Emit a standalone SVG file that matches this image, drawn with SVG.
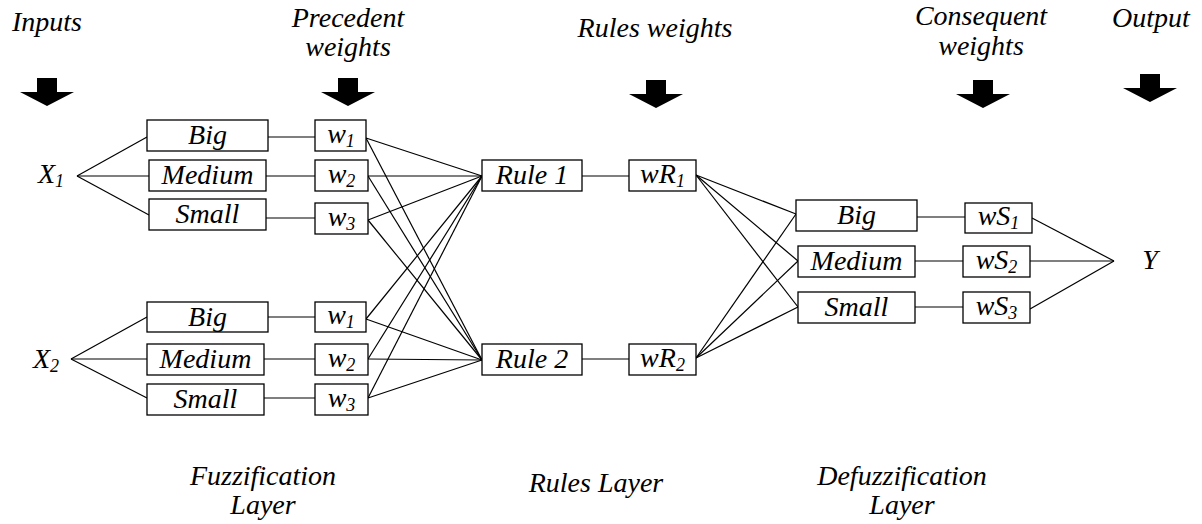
<svg xmlns="http://www.w3.org/2000/svg" width="1202" height="524" viewBox="0 0 1202 524">
<defs>
<path id="arrow" d="M-10,0 H10 V14 H27 L0,28 L-27,14 H-10 Z" fill="#000"/>
</defs>
<rect x="0" y="0" width="1202" height="524" fill="#fff"/>

<g id="labels" font-family="Liberation Serif" font-style="italic" font-size="28" text-anchor="middle" fill="#000">
<text x="47" y="31">Inputs</text>
<text x="348" y="27">Precedent</text>
<text x="348" y="56">weights</text>
<text x="655" y="37">Rules weights</text>
<text x="981" y="25">Consequent</text>
<text x="981" y="55">weights</text>
<text x="1151" y="27">Output</text>
<text x="263" y="485">Fuzzification</text>
<text x="263" y="514">Layer</text>
<text x="596" y="492">Rules Layer</text>
<text x="902" y="485">Defuzzification</text>
<text x="902" y="514">Layer</text>
</g>

<g id="arrows">
<use href="#arrow" x="47" y="78"/>
<use href="#arrow" x="348" y="78"/>
<use href="#arrow" x="656" y="80"/>
<use href="#arrow" x="983" y="80"/>
<use href="#arrow" x="1150" y="74"/>
</g>

<g id="connectors" stroke="#000" stroke-width="1.2" fill="none">
<line x1="77" y1="176" x2="147" y2="137"/>
<line x1="77" y1="176" x2="149" y2="176"/>
<line x1="77" y1="176" x2="149" y2="215"/>
<line x1="268" y1="137" x2="315" y2="137"/>
<line x1="266" y1="176" x2="315" y2="176"/>
<line x1="266" y1="218" x2="315" y2="218"/>
<line x1="71" y1="359" x2="147" y2="317"/>
<line x1="71" y1="359" x2="147" y2="359"/>
<line x1="71" y1="359" x2="147" y2="398"/>
<line x1="268" y1="317" x2="315" y2="317"/>
<line x1="264" y1="359" x2="315" y2="359"/>
<line x1="264" y1="398" x2="315" y2="398"/>
<line x1="366" y1="138" x2="482" y2="176"/>
<line x1="366" y1="138" x2="482" y2="360"/>
<line x1="368" y1="176" x2="482" y2="176"/>
<line x1="368" y1="176" x2="482" y2="360"/>
<line x1="368" y1="220" x2="482" y2="176"/>
<line x1="368" y1="220" x2="482" y2="360"/>
<line x1="366" y1="319" x2="482" y2="176"/>
<line x1="366" y1="319" x2="482" y2="360"/>
<line x1="368" y1="359" x2="482" y2="176"/>
<line x1="368" y1="359" x2="482" y2="360"/>
<line x1="368" y1="398" x2="482" y2="176"/>
<line x1="368" y1="398" x2="482" y2="360"/>
<line x1="582" y1="176" x2="629" y2="176"/>
<line x1="582" y1="359" x2="629" y2="359"/>
<line x1="696" y1="175" x2="796" y2="214"/>
<line x1="696" y1="175" x2="798" y2="261"/>
<line x1="696" y1="175" x2="798" y2="307"/>
<line x1="696" y1="358" x2="796" y2="214"/>
<line x1="696" y1="358" x2="798" y2="261"/>
<line x1="696" y1="358" x2="798" y2="307"/>
<line x1="917" y1="217" x2="965" y2="217"/>
<line x1="915" y1="261" x2="963" y2="261"/>
<line x1="915" y1="307" x2="963" y2="307"/>
<line x1="1032" y1="218" x2="1114" y2="261"/>
<line x1="1030" y1="261" x2="1114" y2="261"/>
<line x1="1030" y1="309" x2="1114" y2="261"/>
</g>

<g id="nodes" font-family="Liberation Serif" font-style="italic" font-size="28" text-anchor="middle">
<g id="x1"><text x="51" y="183" fill="#000">X<tspan font-size="18" dy="4">1</tspan></text></g>
<g id="x2"><text x="46" y="368" fill="#000">X<tspan font-size="18" dy="4">2</tspan></text></g>
<g id="y"><text x="1150" y="269" fill="#000">Y</text></g>

<g id="big1"><rect x="147" y="120" width="121" height="31" fill="#fff" stroke="#000" stroke-width="1.3"/><text x="207.5" y="144" fill="#000">Big</text></g>
<g id="medium1"><rect x="149" y="160" width="117" height="31" fill="#fff" stroke="#000" stroke-width="1.3"/><text x="207.5" y="184" fill="#000">Medium</text></g>
<g id="small1"><rect x="149" y="199" width="117" height="31" fill="#fff" stroke="#000" stroke-width="1.3"/><text x="207.5" y="223" fill="#000">Small</text></g>
<g id="w1a"><rect x="315" y="120" width="51" height="31" fill="#fff" stroke="#000" stroke-width="1.3"/><text x="341" y="143" fill="#000">w<tspan font-size="18" dy="4">1</tspan></text></g>
<g id="w2a"><rect x="315" y="160" width="53" height="31" fill="#fff" stroke="#000" stroke-width="1.3"/><text x="341.5" y="183" fill="#000">w<tspan font-size="18" dy="4">2</tspan></text></g>
<g id="w3a"><rect x="315" y="203" width="53" height="31" fill="#fff" stroke="#000" stroke-width="1.3"/><text x="341.5" y="226" fill="#000">w<tspan font-size="18" dy="4">3</tspan></text></g>

<g id="big2"><rect x="147" y="302" width="121" height="30" fill="#fff" stroke="#000" stroke-width="1.3"/><text x="207.5" y="326" fill="#000">Big</text></g>
<g id="medium2"><rect x="147" y="344" width="117" height="31" fill="#fff" stroke="#000" stroke-width="1.3"/><text x="205.5" y="368" fill="#000">Medium</text></g>
<g id="small2"><rect x="147" y="384" width="117" height="31" fill="#fff" stroke="#000" stroke-width="1.3"/><text x="205.5" y="408" fill="#000">Small</text></g>
<g id="w1b"><rect x="315" y="302" width="51" height="30" fill="#fff" stroke="#000" stroke-width="1.3"/><text x="341" y="324" fill="#000">w<tspan font-size="18" dy="4">1</tspan></text></g>
<g id="w2b"><rect x="315" y="344" width="53" height="31" fill="#fff" stroke="#000" stroke-width="1.3"/><text x="341.5" y="367" fill="#000">w<tspan font-size="18" dy="4">2</tspan></text></g>
<g id="w3b"><rect x="315" y="384" width="53" height="31" fill="#fff" stroke="#000" stroke-width="1.3"/><text x="341.5" y="407" fill="#000">w<tspan font-size="18" dy="4">3</tspan></text></g>

<g id="rule1"><rect x="482" y="160" width="100" height="31" fill="#fff" stroke="#000" stroke-width="1.3"/><text x="532" y="184" fill="#000">Rule 1</text></g>
<g id="rule2"><rect x="482" y="344" width="100" height="31" fill="#fff" stroke="#000" stroke-width="1.3"/><text x="532" y="368" fill="#000">Rule 2</text></g>
<g id="wr1"><rect x="629" y="160" width="67" height="31" fill="#fff" stroke="#000" stroke-width="1.3"/><text x="662.5" y="183" fill="#000">wR<tspan font-size="18" dy="4">1</tspan></text></g>
<g id="wr2"><rect x="629" y="344" width="67" height="31" fill="#fff" stroke="#000" stroke-width="1.3"/><text x="662.5" y="367" fill="#000">wR<tspan font-size="18" dy="4">2</tspan></text></g>

<g id="big3"><rect x="796" y="200" width="121" height="31" fill="#fff" stroke="#000" stroke-width="1.3"/><text x="856.5" y="224" fill="#000">Big</text></g>
<g id="medium3"><rect x="798" y="246" width="117" height="31" fill="#fff" stroke="#000" stroke-width="1.3"/><text x="856.5" y="270" fill="#000">Medium</text></g>
<g id="small3"><rect x="798" y="292" width="117" height="31" fill="#fff" stroke="#000" stroke-width="1.3"/><text x="856.5" y="316" fill="#000">Small</text></g>
<g id="ws1"><rect x="965" y="203" width="67" height="30" fill="#fff" stroke="#000" stroke-width="1.3"/><text x="998.5" y="225" fill="#000">wS<tspan font-size="18" dy="4">1</tspan></text></g>
<g id="ws2"><rect x="963" y="246" width="67" height="31" fill="#fff" stroke="#000" stroke-width="1.3"/><text x="996.5" y="269" fill="#000">wS<tspan font-size="18" dy="4">2</tspan></text></g>
<g id="ws3"><rect x="963" y="292" width="67" height="31" fill="#fff" stroke="#000" stroke-width="1.3"/><text x="996.5" y="315" fill="#000">wS<tspan font-size="18" dy="4">3</tspan></text></g>
</g>
</svg>
